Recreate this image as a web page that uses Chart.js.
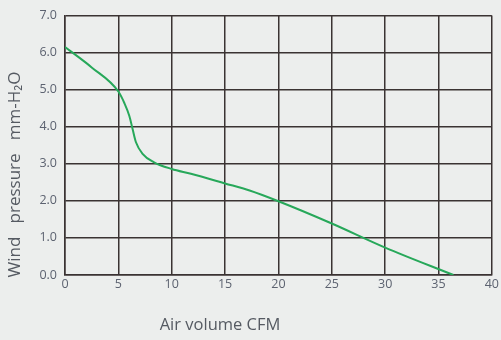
<!DOCTYPE html>
<html><head><meta charset="utf-8">
<script src="https://cdn.jsdelivr.net/npm/chart.js@4"></script>
<style>html,body{margin:0;padding:0;background:#eceeed;}#wrap{width:501px;height:340px;}</style>
</head><body><div id="wrap"><canvas id="c" width="501" height="340"></canvas></div>
<script>
const airVolume = [0, 2.5, 5, 5.56, 6.03, 6.34, 6.65, 7.27, 8.35, 10, 11.8, 15, 17.3, 20, 25, 30, 36.4];
const windPressure = [6.15, 5.6, 4.95, 4.64, 4.29, 3.93, 3.58, 3.27, 3.04, 2.86, 2.73, 2.47, 2.28, 1.99, 1.39, 0.74, 0];
const xTitle = 'Air volume CFM';
const yTitle = 'Wind   pressure   mm-H\u2082O';

const points = airVolume.map((x, i) => ({x, y: windPressure[i]}));
const tickColor = '#5c6270';
const gridColor = '#3a3333';
const titleColor = '#555a62';

const titlesPlugin = {
  id: 'titles',
  afterDraw(chart) {
    const ctx = chart.ctx, a = chart.chartArea;
    ctx.save();
    ctx.fillStyle = titleColor;
    ctx.textAlign = 'center';
    ctx.textBaseline = 'middle';
    ctx.font = '16.5px "Open Sans"';
    ctx.fillText(xTitle, a.left + 155, a.bottom + 50);
    ctx.translate(15, a.top + 159);
    ctx.rotate(-Math.PI / 2);
    ctx.font = '17px "Open Sans"';
    ctx.fillText(yTitle, 0, 0);
    ctx.restore();
  }
};

new Chart(document.getElementById('c'), {
  type: 'line',
  data: { datasets: [{ data: points, borderColor: '#27a85a', borderWidth: 2, pointRadius: 0, cubicInterpolationMode: 'monotone', fill: false }] },
  options: {
    responsive: false, animation: false, devicePixelRatio: 1,
    layout: { padding: { top: 14, right: 9, left: 0, bottom: 0 } },
    plugins: { legend: { display: false }, tooltip: { enabled: false } },
    scales: {
      x: {
        type: 'linear', min: 0, max: 40,
        ticks: { stepSize: 5, color: tickColor, font: { family: 'Open Sans', size: 12.5 }, padding: 2 },
        grid: { color: gridColor, lineWidth: 1.5, drawTicks: false },
        border: { color: gridColor, width: 1.5 },
        afterFit(s) { s.height = 65; }
      },
      y: {
        min: 0, max: 7,
        ticks: { stepSize: 1, color: tickColor, font: { family: 'Open Sans', size: 12.5 }, padding: 8, callback: v => v.toFixed(1) },
        grid: { color: gridColor, lineWidth: 1.5, drawTicks: false },
        border: { color: gridColor, width: 1.5 },
        afterFit(s) { s.width = 65; }
      }
    }
  },
  plugins: [titlesPlugin]
});
</script></body></html>
